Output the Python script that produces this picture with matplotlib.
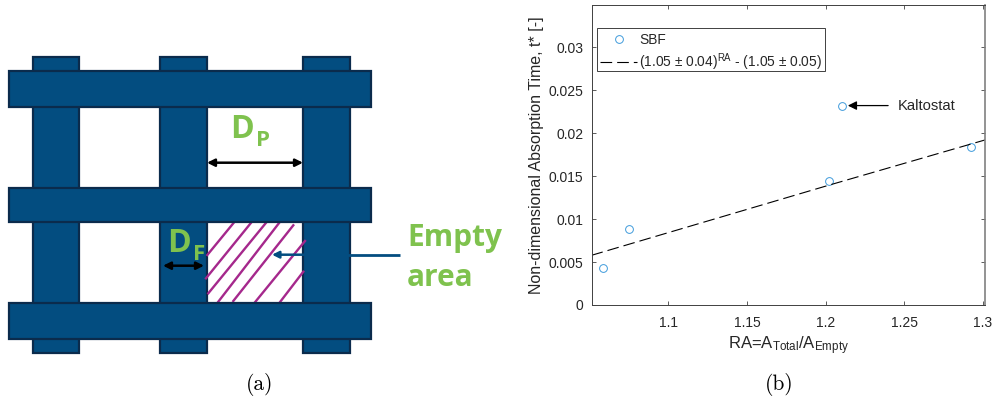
import numpy as np
import matplotlib
matplotlib.use('Agg')
import matplotlib.pyplot as plt
from matplotlib.patches import Rectangle

plt.rcParams['font.family'] = ['Liberation Sans', 'DejaVu Sans']
plt.rcParams['mathtext.fontset'] = 'custom'
plt.rcParams['mathtext.rm'] = 'Liberation Sans'
plt.rcParams['mathtext.it'] = 'Liberation Sans:italic'
plt.rcParams['mathtext.bf'] = 'Liberation Sans:bold'

# Data of panel (b)
ra = [1.0587, 1.0748, 1.2023, 1.2106, 1.2923]
t_star = [0.00427, 0.00887, 0.0144, 0.0232, 0.01833]
fit_ra = [1.0512, 1.2023, 1.3013]
fit_t = [0.00578, 0.01395, 0.0192]
x_ticks = [1.1, 1.15, 1.2, 1.25, 1.3]
x_labels = ['1.1', '1.15', '1.2', '1.25', '1.3']
y_ticks = [0, 0.005, 0.01, 0.015, 0.02, 0.025, 0.03]
y_labels = ['0', '0.005', '0.01', '0.015', '0.02', '0.025', '0.03']

# Mesh sketch of panel (a), in image pixels
fibres_v = [(32.7, 79.3), (160, 206.7), (302.7, 350)]
fibres_h = [(71, 107.3), (188, 222.3), (303.3, 339)]
hatch_lines = [((207.3, 255), (233.3, 223.3)), ((206, 278.3), (253.3, 220)),
               ((208.3, 293.3), (268.3, 220)), ((218.3, 301.7), (279.3, 222.7)),
               ((233.3, 301), (293.3, 225.3)), ((253.3, 304.3), (305, 241)),
               ((278.3, 304.3), (303.3, 271.7))]

W, H = 994, 403
fig = plt.figure(figsize=(W / 100, H / 100), dpi=100)

# Panel (a)
ax0 = fig.add_axes([0, 0, 1, 1])
ax0.set_xlim(0, W)
ax0.set_ylim(H, 0)
ax0.axis('off')

blue = '#034d80'
edge = '#0b2b4c'
green = '#7fc24e'
for x0, x1 in fibres_v:
    ax0.add_patch(Rectangle((x0, 56.7), x1 - x0, 296.6, fc=blue, ec=edge, lw=1.6, zorder=2))
for y0, y1 in fibres_h:
    ax0.add_patch(Rectangle((9.3, y0), 361.7, y1 - y0, fc=blue, ec=edge, lw=1.6, zorder=3))
for a, b in hatch_lines:
    ax0.plot([a[0], b[0]], [a[1], b[1]], color='#a5288c', lw=1.7, zorder=2.5)

ax0.annotate('', xy=(207, 162.7), xytext=(303, 162.7), zorder=4,
             arrowprops=dict(arrowstyle='<|-|>', color='black', lw=1.8, shrinkA=0, shrinkB=0, mutation_scale=11))
ax0.annotate('', xy=(163, 265.7), xytext=(204, 265.7), zorder=4,
             arrowprops=dict(arrowstyle='<|-|>', color='black', lw=1.8, shrinkA=0, shrinkB=0, mutation_scale=11))
ax0.plot([346, 400], [254.7, 254.7], color=blue, lw=2, zorder=4, solid_capstyle='butt')
ax0.annotate('', xy=(272, 254.7), xytext=(306, 254.7), zorder=4,
             arrowprops=dict(arrowstyle='-|>', color=blue, lw=1.8, shrinkA=0, shrinkB=0, mutation_scale=10))

ax0.text(230, 138, 'D', color=green, fontsize=23, fontweight='bold', family='Open Sans', va='baseline', zorder=5)
ax0.text(256, 146, 'P', color=green, fontsize=16, fontweight='bold', family='Open Sans', va='baseline', zorder=5)
ax0.text(167, 252, 'D', color=green, fontsize=23, fontweight='bold', family='Open Sans', va='baseline', zorder=5)
ax0.text(193, 260, 'F', color=green, fontsize=16, fontweight='bold', family='Open Sans', va='baseline', zorder=5)
ax0.text(407, 246, 'Empty', color=green, fontsize=21.5, fontweight='bold', family='Open Sans', va='baseline', zorder=5)
ax0.text(407, 286, 'area', color=green, fontsize=21.5, fontweight='bold', family='Open Sans', va='baseline', zorder=5)

ax0.text(260, 385, '(a)', family='cmr10', fontsize=15.5, ha='center', va='center', color='black')
ax0.text(779, 385, '(b)', family='cmr10', fontsize=15.5, ha='center', va='center', color='black')

# Panel (b)
left, right, top, bottom = 591.5, 985, 5, 305
ax = fig.add_axes([left / W, 1 - bottom / H, (right - left) / W, (bottom - top) / H])
ax.plot(ra, t_star, 'o', mfc='none', mec='#3f9bdc', ms=5.6, mew=0.7, ls='none', label='SBF')
ax.plot(fit_ra, fit_t, color='black', ls=(0, (10.5, 4.5)), lw=0.8,
        label=r'(1.05 $\pm$ 0.04)$^{\mathrm{RA}}$ - (1.05 $\pm$ 0.05)')
ax.set_xlim(1.0512, 1.3013)
ax.set_ylim(0, 0.0349)
ax.set_xticks(x_ticks, x_labels)
ax.set_yticks(y_ticks, y_labels)
ax.tick_params(direction='in', top=True, right=True, length=3, width=0.6,
               color='#404040', labelcolor='#262626', labelsize=10, pad=4)
ax.tick_params(axis='x', pad=8)
ax.tick_params(axis='y', pad=6)
for s in ax.spines.values():
    s.set_color('#404040')
    s.set_linewidth(0.7)
ax.spines['right'].set_color('#808080')
ax.spines['right'].set_linewidth(1.2)
ax.set_xlabel(r'RA=A$_{\mathrm{Total}}$/A$_{\mathrm{Empty}}$', fontsize=12, color='#262626', labelpad=3)
ax.set_ylabel('Non-dimensional Absorption Time, t* [-]', fontsize=11.5, color='#262626', labelpad=3)

ax.annotate('', xy=(ra[3], t_star[3]), xytext=(33, 0), textcoords='offset points',
            arrowprops=dict(arrowstyle='-|>', color='black', lw=0.9, shrinkA=0, shrinkB=4, mutation_scale=13))
ax.annotate('Kaltostat', xy=(ra[3], t_star[3]), xytext=(40, 0), textcoords='offset points',
            fontsize=10.6, color='#262626', va='center')

# Legend box drawn apart, the rows sit a bit low in it
lx0 = (596.7 - left) / (right - left)
lx1 = (825.3 - left) / (right - left)
ly1 = 1 - (28.3 - top) / (bottom - top)
ly0 = 1 - (71.3 - top) / (bottom - top)
ax.add_patch(Rectangle((lx0, ly0), lx1 - lx0, ly1 - ly0, transform=ax.transAxes,
                       fc='white', ec='#404040', lw=0.7, zorder=4))
row_shift = 5 / (bottom - top)
ax.legend(loc='lower left', bbox_to_anchor=(lx0, ly0 - row_shift, lx1 - lx0, ly1 - ly0), mode='expand',
          borderaxespad=0, fontsize=9.9, frameon=False,
          handlelength=2.7, handletextpad=0.15, labelspacing=0.3, borderpad=0.25,
          labelcolor='#262626')

fig.savefig('out.png', dpi=100)
